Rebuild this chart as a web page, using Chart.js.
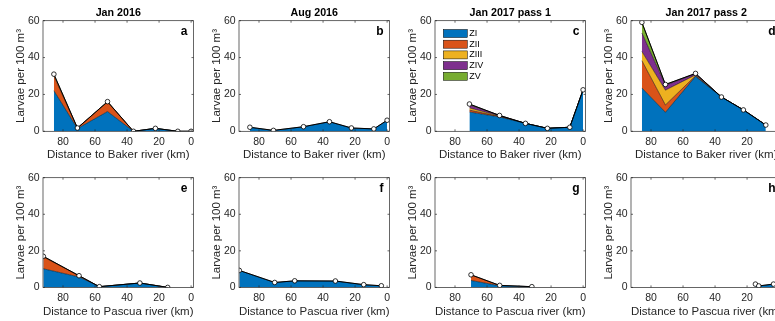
<!DOCTYPE html>
<html>
<head>
<meta charset="utf-8">
<title>Larvae per 100 m³</title>
<script src="https://cdn.jsdelivr.net/npm/chart.js@4.4.1/dist/chart.umd.min.js"></script>
<style>
  body { margin: 0; width: 775px; height: 321px; overflow: hidden; background: #fff; position: relative; }
  .panel { position: absolute; }
  .panel canvas { display: block; }
</style>
</head>
<body>
<script>
// zoeal stages, stacked bottom to top
var stageNames = ['ZI', 'ZII', 'ZIII', 'ZIV', 'ZV'];
var stageColors = ['#0072BD', '#D95319', '#EDB120', '#7E2F8E', '#77AC30'];

var kmTicks = [0, 20, 40, 60, 80];
var larvaeTicks = [0, 20, 40, 60];

// Baker transect (distance to river mouth, km)
var bakerJan16Km = [85.7, 71, 52.2, 36, 22.3, 8.3, 0];
var bakerJan16ZI = [22, 1.5, 10.7, 0, 1.6, 0, 0];
var bakerJan16ZII = [8, 0.3, 5.2, 0, 0, 0, 0];
var bakerJan16ZIII = [1, 0, 0.2, 0, 0, 0, 0];

var bakerAug16Km = [85.7, 71, 52.2, 36, 22.3, 8.3, 0];
var bakerAug16ZI = [2.2, 0.5, 2.5, 5.2, 1.8, 1.3, 6];

var bakerJan17aKm = [71, 52.2, 36, 22.3, 8.3, 0];
var bakerJan17aZI = [10.5, 7.8, 4.3, 1.6, 2.2, 22.5];
var bakerJan17aZII = [1, 0.3, 0, 0, 0, 0];
var bakerJan17aZIII = [1.2, 0.2, 0, 0, 0, 0];
var bakerJan17aZIV = [1.6, 0.3, 0, 0, 0, 0];
var bakerJan17aZV = [0.5, 0, 0, 0, 0, 0];

var bakerJan17bKm = [85.7, 71, 52.2, 36, 22.3, 8.3];
var bakerJan17bZI = [23.5, 10.3, 29.8, 18.6, 11.6, 3.4];
var bakerJan17bZII = [14.8, 4, 0.3, 0, 0, 0];
var bakerJan17bZIII = [5, 8, 0.5, 0, 0, 0];
var bakerJan17bZIV = [10, 2.7, 0.6, 0, 0, 0];
var bakerJan17bZV = [5.8, 0.4, 0.2, 0, 0, 0];

// Pascua transect
var pascuaJan16Km = [92.3, 70, 57.3, 32, 14.6];
var pascuaJan16ZI = [10.2, 5.7, 0.4, 2.4, 0];
var pascuaJan16ZII = [6.5, 0.7, 0, 0, 0];
var pascuaJan16ZIII = [0.3, 0, 0, 0, 0];

var pascuaAug16Km = [92.3, 70.2, 57.7, 32.3, 14.6, 3.6];
var pascuaAug16ZI = [9.3, 2.7, 3.6, 3.5, 1.5, 0.9];

var pascuaJan17aKm = [70, 52.1, 32];
var pascuaJan17aZI = [3.8, 0.9, 0.4];
var pascuaJan17aZII = [3.1, 0.2, 0];

var pascuaJan17bKm = [14.8, 12.7, 3.5];
var pascuaJan17bZI = [1.8, 0.8, 1.8];

var panels = [
    { letter: 'a', title: 'Jan 2016', river: 'Baker', col: 0, row: 0, km: bakerJan16Km,
      stages: [bakerJan16ZI, bakerJan16ZII, bakerJan16ZIII] },
    { letter: 'b', title: 'Aug 2016', river: 'Baker', col: 1, row: 0, km: bakerAug16Km,
      stages: [bakerAug16ZI] },
    { letter: 'c', title: 'Jan 2017 pass 1', river: 'Baker', col: 2, row: 0, km: bakerJan17aKm, legend: true,
      stages: [bakerJan17aZI, bakerJan17aZII, bakerJan17aZIII, bakerJan17aZIV, bakerJan17aZV] },
    { letter: 'd', title: 'Jan 2017 pass 2', river: 'Baker', col: 3, row: 0, km: bakerJan17bKm,
      stages: [bakerJan17bZI, bakerJan17bZII, bakerJan17bZIII, bakerJan17bZIV, bakerJan17bZV] },
    { letter: 'e', title: '', river: 'Pascua', col: 0, row: 1, km: pascuaJan16Km,
      stages: [pascuaJan16ZI, pascuaJan16ZII, pascuaJan16ZIII] },
    { letter: 'f', title: '', river: 'Pascua', col: 1, row: 1, km: pascuaAug16Km,
      stages: [pascuaAug16ZI] },
    { letter: 'g', title: '', river: 'Pascua', col: 2, row: 1, km: pascuaJan17aKm,
      stages: [pascuaJan17aZI, pascuaJan17aZII] },
    { letter: 'h', title: '', river: 'Pascua', col: 3, row: 1, km: pascuaJan17bKm,
      stages: [pascuaJan17bZI] }
];

// figure layout (page pixels)
var colLeft = [42.5, 238.8, 435, 631.3];
var rowTop = [20.7, 177.3];
var plotW = 150.5;
var plotH = [110.6, 109.7];
var yAxisW = 43;
var titleH = 20.7;
var canvasW = 204;
var canvasH = 164;

Chart.defaults.font.family = '"Liberation Sans", Arial, Helvetica, sans-serif';
Chart.defaults.color = '#262626';

// box around the axes, inward ticks on all four sides, panel letter and stage legend
var axesBox = {
    id: 'axesBox',
    afterDraw: function (chart, args, opts) {
        var ctx = chart.ctx;
        var a = chart.chartArea;
        var x = chart.scales.x;
        var y = chart.scales.y;
        ctx.save();
        ctx.strokeStyle = '#262626';
        ctx.lineWidth = 0.7;
        ctx.strokeRect(a.left, a.top, a.right - a.left, a.bottom - a.top);
        ctx.beginPath();
        x.ticks.forEach(function (t) {
            var px = x.getPixelForValue(t.value);
            ctx.moveTo(px, a.bottom); ctx.lineTo(px, a.bottom - 2);
            ctx.moveTo(px, a.top); ctx.lineTo(px, a.top + 2);
        });
        y.ticks.forEach(function (t) {
            var py = y.getPixelForValue(t.value);
            ctx.moveTo(a.left, py); ctx.lineTo(a.left + 2, py);
            ctx.moveTo(a.right, py); ctx.lineTo(a.right - 2, py);
        });
        ctx.stroke();

        ctx.fillStyle = '#000';
        ctx.font = 'bold 12px "Liberation Sans", Arial, sans-serif';
        ctx.textAlign = 'right';
        ctx.textBaseline = 'middle';
        ctx.fillText(opts.letter, a.right - 6, a.top + 10.5);

        if (opts.legend) {
            ctx.font = '9px "Liberation Sans", Arial, sans-serif';
            ctx.textAlign = 'left';
            ctx.lineWidth = 0.5;
            ctx.strokeStyle = '#000';
            stageNames.forEach(function (nome, i) {
                var cy = a.top + 12.8 + i * 10.7;
                ctx.fillStyle = stageColors[i];
                ctx.fillRect(a.left + 8.3, cy - 4, 24, 8);
                ctx.strokeRect(a.left + 8.3, cy - 4, 24, 8);
                ctx.fillStyle = '#000';
                ctx.fillText(nome, a.left + 34.3, cy);
            });
        }
        ctx.restore();
    }
};

function sumStages(stages, j) {
    var total = 0;
    for (var i = 0; i < stages.length; i++) {
        total += stages[i][j];
    }
    return total;
}

function plotPanel(p) {
    var div = document.createElement('div');
    div.className = 'panel';
    div.style.left = (colLeft[p.col] - yAxisW) + 'px';
    div.style.top = (rowTop[p.row] - titleH) + 'px';
    var canvas = document.createElement('canvas');
    canvas.width = canvasW;
    canvas.height = canvasH;
    div.appendChild(canvas);
    document.body.appendChild(div);

    var xAxisH = canvasH - titleH - plotH[p.row];
    var labelCenter = p.row === 0 ? 23.7 : 24.7;

    var datasets = p.stages.map(function (valores, i) {
        return {
            label: stageNames[i],
            data: p.km.map(function (km, j) { return { x: km, y: valores[j] }; }),
            backgroundColor: stageColors[i],
            borderColor: '#000',
            borderWidth: 0.5,
            pointRadius: 0,
            fill: i === 0 ? 'origin' : '-1',
            stack: 'stages',
            order: 1
        };
    });

    // station totals: black line with open circles on top of the stack
    datasets.push({
        label: 'total',
        data: p.km.map(function (km, j) { return { x: km, y: sumStages(p.stages, j) }; }),
        borderColor: '#000',
        borderWidth: 1,
        pointRadius: 2.3,
        pointBackgroundColor: '#fff',
        pointBorderColor: '#000',
        pointBorderWidth: 0.8,
        fill: false,
        stack: 'total',
        order: 0
    });

    new Chart(canvas, {
        type: 'line',
        data: { datasets: datasets },
        options: {
            responsive: false,
            animation: false,
            devicePixelRatio: 1,
            layout: { padding: { top: p.title ? 0 : titleH, right: canvasW - yAxisW - plotW, left: 0, bottom: 0 } },
            scales: {
                x: {
                    type: 'linear',
                    reverse: true,
                    min: -1.5,
                    max: 92.5,
                    afterBuildTicks: function (s) { s.ticks = kmTicks.map(function (v) { return { value: v }; }); },
                    afterFit: function (s) { s.height = xAxisH; },
                    grid: { display: false, drawTicks: false },
                    border: { display: false },
                    ticks: { padding: 4.2, color: '#262626', font: { size: 10.5 }, maxRotation: 0, autoSkip: false },
                    title: {
                        display: true,
                        text: 'Distance to ' + p.river + ' river (km)',
                        color: '#262626',
                        font: { size: 11.5 },
                        padding: { top: 0, bottom: xAxisH - labelCenter - 6.9 }
                    }
                },
                y: {
                    stacked: true,
                    min: 0,
                    max: 60,
                    afterBuildTicks: function (s) { s.ticks = larvaeTicks.map(function (v) { return { value: v }; }); },
                    afterFit: function (s) { s.width = yAxisW; },
                    grid: { display: false, drawTicks: false },
                    border: { display: false },
                    ticks: { padding: 3.4, color: '#262626', font: { size: 10.5 } },
                    title: {
                        display: true,
                        text: 'Larvae per 100 m³',
                        color: '#262626',
                        font: { size: 11.5 },
                        padding: { top: 14, bottom: 0 }
                    }
                }
            },
            plugins: {
                legend: { display: false },
                tooltip: { enabled: false },
                title: {
                    display: !!p.title,
                    text: p.title,
                    fullSize: false,
                    color: '#000',
                    font: { size: 10.7, weight: 'bold' },
                    padding: { top: 6.6, bottom: 1.26 }
                },
                axesBox: { letter: p.letter, legend: !!p.legend }
            }
        },
        plugins: [axesBox]
    });
}

panels.forEach(plotPanel);
</script>
</body>
</html>
